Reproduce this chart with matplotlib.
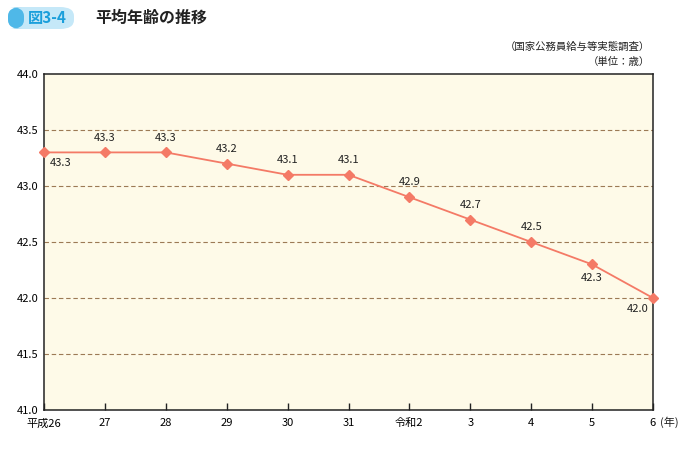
import matplotlib
matplotlib.use('Agg')
import matplotlib.pyplot as plt
from matplotlib.patches import FancyBboxPatch

plt.rcParams['font.family'] = ['Noto Sans CJK JP', 'DejaVu Sans']

# data
years = ['平成26', '27', '28', '29', '30', '31', '令和2', '3', '4', '5', '6']
ages = [43.3, 43.3, 43.3, 43.2, 43.1, 43.1, 42.9, 42.7, 42.5, 42.3, 42.0]
label_pos = ['below_right', 'above', 'above', 'above', 'above', 'above',
             'above', 'above', 'above', 'below', 'below_left']

line_color = '#F47A66'
bg_color = '#FEFAE8'
grid_color = '#9C7A55'

fig = plt.figure(figsize=(6.99, 4.55), dpi=100)
ax = fig.add_axes([44 / 699, 45 / 455, 609 / 699, 336 / 455])
ax.set_facecolor(bg_color)

x = list(range(len(years)))
ax.plot(x, ages, color=line_color, linewidth=1.3, marker='D', markersize=5.5,
        markerfacecolor=line_color, markeredgecolor=line_color, clip_on=False, zorder=3)

for xi, yi, pos in zip(x, ages, label_pos):
    if pos == 'above':
        ax.annotate(f'{yi:.1f}', (xi, yi), xytext=(0, 7), textcoords='offset points',
                    ha='center', va='bottom', fontsize=8, color='#222222')
    elif pos == 'below':
        ax.annotate(f'{yi:.1f}', (xi, yi), xytext=(0, -6), textcoords='offset points',
                    ha='center', va='top', fontsize=8, color='#222222')
    elif pos == 'below_right':
        ax.annotate(f'{yi:.1f}', (xi, yi), xytext=(4, -4), textcoords='offset points',
                    ha='left', va='top', fontsize=8, color='#222222')
    else:
        ax.annotate(f'{yi:.1f}', (xi, yi), xytext=(-3, -4), textcoords='offset points',
                    ha='right', va='top', fontsize=8, color='#222222')

ax.set_xlim(0, 10)
ax.set_ylim(41.0, 44.0)
yt = [41.0, 41.5, 42.0, 42.5, 43.0, 43.5, 44.0]
ax.set_yticks(yt)
ax.set_yticklabels([f'{v:.1f}' for v in yt], fontsize=8)
ax.set_xticks(x)
ax.set_xticklabels(years, fontsize=8)
ax.annotate('(年)', xy=(10, 0), xycoords=('data', 'axes fraction'),
            xytext=(5, -4.5), textcoords='offset points',
            ha='left', va='top', fontsize=8, color='#222222')

ax.tick_params(axis='x', direction='in', length=5, width=1, pad=6, color='#222222')
ax.tick_params(axis='y', length=0, pad=4)

for yg in [41.5, 42.0, 42.5, 43.0, 43.5]:
    ax.axhline(yg, color=grid_color, linestyle=(0, (4, 2.5)), linewidth=0.8, zorder=1)

for sp in ax.spines.values():
    sp.set_color('#222222')
    sp.set_linewidth(1.1)

# header
badge = FancyBboxPatch((8 / 699, 1 - 29 / 455), 66 / 699, 22 / 455,
                       boxstyle='round,pad=0,rounding_size=0.02',
                       transform=fig.transFigure, facecolor='#C5E8F8',
                       edgecolor='none')
fig.patches.append(badge)
tip = FancyBboxPatch((8 / 699, 1 - 29 / 455), 16 / 699, 22 / 455,
                     boxstyle='round,pad=0,rounding_size=0.02',
                     transform=fig.transFigure, facecolor='#4FB8E8',
                     edgecolor='none')
fig.patches.append(tip)
fig.text(28 / 699, 1 - 18 / 455, '図3-4', fontsize=11, color='#1A9FDB',
         ha='left', va='center', fontweight='bold')
fig.text(95 / 699, 1 - 18 / 455, '平均年齢の推移', fontsize=11.5, color='#222222',
         ha='left', va='center', fontweight='bold')

fig.text(650 / 699, 1 - 47 / 455, '（国家公務員給与等実態調査）', fontsize=7.5,
         ha='right', va='center', color='#222222')
fig.text(650 / 699, 1 - 62 / 455, '（単位：歳）', fontsize=7.5,
         ha='right', va='center', color='#222222')

fig.savefig('out.png', dpi=100)
